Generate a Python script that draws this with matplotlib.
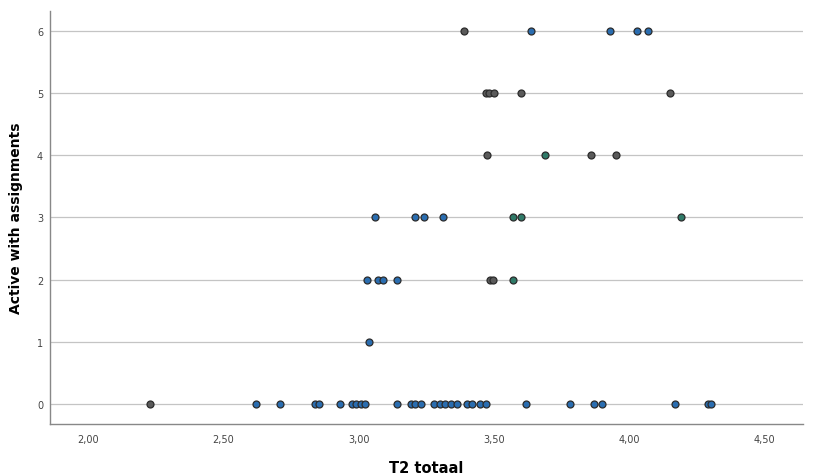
import matplotlib.pyplot as plt
import matplotlib.ticker as mticker

# T2 totaal scores per level of "Active with assignments"
blue_x = [3.635, 3.93, 4.03, 4.07,
          3.06, 3.21, 3.24, 3.31,
          3.03, 3.07, 3.09, 3.14,
          3.04,
          2.62, 2.71, 2.84, 2.855, 2.93, 2.975, 2.99, 3.01, 3.025, 3.14,
          3.195, 3.21, 3.23, 3.28, 3.30, 3.32, 3.34, 3.365, 3.40, 3.42,
          3.45, 3.47, 3.62, 3.78, 3.87, 3.90, 4.17, 4.29, 4.30]
blue_y = [6, 6, 6, 6,
          3, 3, 3, 3,
          2, 2, 2, 2,
          1,
          0, 0, 0, 0, 0, 0, 0, 0, 0, 0,
          0, 0, 0, 0, 0, 0, 0, 0, 0, 0,
          0, 0, 0, 0, 0, 0, 0, 0, 0]

gray_x = [3.39, 3.47, 3.48, 3.50, 3.60, 4.15, 3.476, 3.86, 3.95, 3.485, 3.495, 2.23]
gray_y = [6, 5, 5, 5, 5, 5, 4, 4, 4, 2, 2, 0]

teal_x = [3.69, 3.57, 3.60, 4.19, 3.57]
teal_y = [4, 3, 3, 3, 2]

y_ticks = [0, 1, 2, 3, 4, 5, 6]
x_ticks = [2.0, 2.5, 3.0, 3.5, 4.0, 4.5]

fig = plt.figure(figsize=(8.19, 4.77), dpi=100)
ax = fig.add_axes([0.061, 0.109, 0.919, 0.866])

for yt in y_ticks:
    ax.axhline(yt, color='#c4c4c4', lw=0.9, zorder=1)

ax.scatter(blue_x, blue_y, s=25, color='#2a6db0', edgecolors='#2b2b2b', linewidths=0.9, zorder=3)
ax.scatter(gray_x, gray_y, s=25, color='#5a5a5a', edgecolors='#2b2b2b', linewidths=0.9, zorder=3)
ax.scatter(teal_x, teal_y, s=25, color='#2f7a68', edgecolors='#2b2b2b', linewidths=0.9, zorder=3)

ax.set_xlim(1.86, 4.64)
ax.set_ylim(-0.32, 6.32)
ax.set_xticks(x_ticks)
ax.set_yticks(y_ticks)
ax.xaxis.set_major_formatter(mticker.FuncFormatter(lambda v, p: f"{v:.2f}".replace('.', ',')))

ax.tick_params(axis='both', length=0, labelsize=7, labelcolor='#444444')
ax.tick_params(axis='x', pad=7)
ax.tick_params(axis='y', pad=5)

for side in ['top', 'right']:
    ax.spines[side].set_visible(False)
for side in ['left', 'bottom']:
    ax.spines[side].set_color('#888888')
    ax.spines[side].set_linewidth(1.0)

ax.set_xlabel('T2 totaal', fontsize=10.5, fontweight='bold', labelpad=12)
ax.set_ylabel('Active with assignments', fontsize=10, fontweight='bold', labelpad=10)

fig.savefig('out.png', dpi=100)
